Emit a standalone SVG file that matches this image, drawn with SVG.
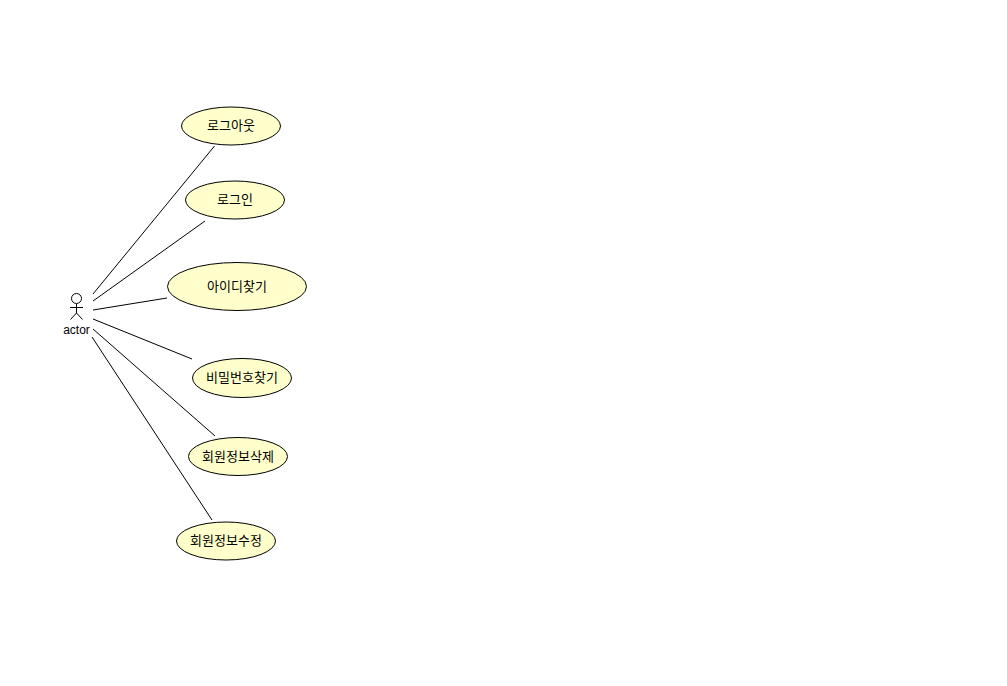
<svg xmlns="http://www.w3.org/2000/svg" width="1007" height="686" viewBox="0 0 1007 686">
<style>
.u{fill:#ffffcc;stroke:#000;stroke-width:1}
.l{fill:none;stroke:#000;stroke-width:1}
text{font-family:"Noto Sans CJK KR","Liberation Sans",sans-serif;font-size:13px;fill:#000;text-anchor:middle}
text.a{font-family:"Liberation Sans",sans-serif;font-size:12px}
</style>
<rect width="1007" height="686" fill="#fff"/>
<g id="connectors" class="l">
<line x1="93" y1="294" x2="214.500" y2="146"/>
<line x1="93" y1="301" x2="205" y2="221"/>
<line x1="93" y1="310" x2="167" y2="298"/>
<line x1="93" y1="319" x2="192" y2="359"/>
<line x1="93" y1="329" x2="215" y2="436"/>
<line x1="92" y1="337" x2="212" y2="520"/>
</g>
<g id="actor">
<circle class="l" cx="76.500" cy="298.500" r="5"/>
<path class="l" d="M76.500 304V313M70 307.500H83M76.500 313L70.500 319.500M76.500 313L82.500 319.500"/>
<text class="a" x="76.500" y="334">actor</text>
</g>
<g id="logout"><ellipse class="u" cx="231" cy="126" rx="49.500" ry="19"/><text x="231" y="129.500">로그아웃</text></g>
<g id="login"><ellipse class="u" cx="235" cy="200" rx="49.500" ry="19"/><text x="235" y="203.500">로그인</text></g>
<g id="find-id"><ellipse class="u" cx="237" cy="286.500" rx="69.500" ry="24"/><text x="237" y="290.500">아이디찾기</text></g>
<g id="find-pw"><ellipse class="u" cx="242" cy="378" rx="49.500" ry="19.500"/><text x="242" y="381.500">비밀번호찾기</text></g>
<g id="delete"><ellipse class="u" cx="238" cy="456.500" rx="49.500" ry="19"/><text x="238" y="460.500">회원정보삭제</text></g>
<g id="edit"><ellipse class="u" cx="226" cy="541" rx="49.500" ry="19"/><text x="226" y="544.500">회원정보수정</text></g>
</svg>
